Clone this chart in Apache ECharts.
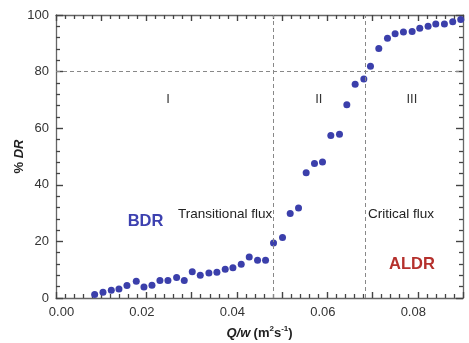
<!DOCTYPE html>
<html>
<head>
<meta charset="utf-8">
<script src="https://cdn.jsdelivr.net/npm/echarts@6/dist/echarts.min.js"></script>
<style>
  html, body { margin: 0; background: #fff; }
  #chart { width: 469px; height: 343px; }
</style>
</head>
<body>
<div id="chart"></div>
<script>
// Q/w (m2 s-1) vs % drag reduction
const flux = [
  0.00855, 0.01039, 0.01223, 0.01392, 0.01569, 0.01775, 0.01945, 0.02122, 0.02298, 0.02475,
  0.02667, 0.02836, 0.03013, 0.03190, 0.03381, 0.03558, 0.03742, 0.03912, 0.04096, 0.04273,
  0.04457, 0.04634, 0.04810, 0.05009, 0.05179, 0.05363, 0.05532, 0.05716, 0.05893, 0.06077,
  0.06269, 0.06431, 0.06615, 0.06807, 0.06954, 0.07138, 0.07330, 0.07499, 0.07683, 0.07875,
  0.08044, 0.08228, 0.08398, 0.08589, 0.08773, 0.08950
];
const dr = [
  1.2, 2.0, 2.7, 3.2, 4.4, 5.9, 3.9, 4.5, 6.2, 6.2,
  7.2, 6.2, 9.3, 8.0, 8.8, 9.1, 10.2, 10.7, 11.9, 14.5,
  13.3, 13.3, 19.4, 21.4, 29.9, 31.8, 44.3, 47.5, 48.1, 57.4,
  57.9, 68.3, 75.5, 77.4, 81.9, 88.2, 91.8, 93.4, 94.0, 94.2,
  95.3, 96.0, 96.8, 96.8, 97.6, 98.4
];
const boundaries = [0.0481, 0.0683];
const threshold = 80;

const regionNames = ["I", "II", "III"];
const regionX = [0.0248, 0.0581, 0.0787];
const regionY = [70, 70, 70];

const fluxNames = ["Transitional flux", "Critical flux"];
const fluxX = [0.0374, 0.0763];
const fluxY = [29.5, 29.5];

const tagNames = ["BDR", "ALDR"];
const tagX = [0.0198, 0.0787];
const tagY = [27, 11.8];
const tagColors = ["#3d41b0", "#b5302c"];

const dotColor = "#3b3fab";
const frameColor = "#666";
const tickColor = "#444";

const chart = echarts.init(document.getElementById("chart"));

function xAxisBase(pos, withLabels) {
  return {
    type: "value",
    position: pos,
    min: 0,
    max: 0.09,
    interval: 0.01,
    axisLine: { show: true, onZero: false, lineStyle: { color: frameColor, width: 1.3 } },
    axisTick: { show: true, inside: true, length: 6, lineStyle: { color: tickColor, width: 1.4 } },
    minorTick: { show: true, splitNumber: 5, length: 4, lineStyle: { color: tickColor, width: 1.3 } },
    axisLabel: withLabels ? {
      show: true,
      margin: 8,
      fontSize: 13,
      color: "#333",
      fontFamily: "Liberation Sans",
      formatter: (v) => {
        const k = Math.round(v * 100);
        if (k % 2 !== 0) return "";
        return k === 0 ? "{f|0.00}" : "{d|" + v.toFixed(2) + "}";
      },
      rich: {
        f: { fontSize: 13, color: "#333", padding: [0, 0, 0, 11] },
        d: { fontSize: 13, color: "#333", padding: [0, 9, 0, 0] }
      }
    } : { show: false },
    splitLine: { show: false }
  };
}

function yAxisBase(pos, withLabels) {
  return {
    type: "value",
    position: pos,
    min: 0,
    max: 100,
    interval: 20,
    axisLine: { show: true, onZero: false, lineStyle: { color: frameColor, width: 1.3 } },
    axisTick: { show: true, inside: true, length: 7, lineStyle: { color: tickColor, width: 1.4 } },
    minorTick: { show: true, splitNumber: 5, length: 4, lineStyle: { color: tickColor, width: 1.3 } },
    axisLabel: withLabels ? {
      show: true,
      margin: 7,
      fontSize: 13,
      color: "#333",
      fontFamily: "Liberation Sans"
    } : { show: false },
    splitLine: { show: false }
  };
}

const xBottom = xAxisBase("bottom", true);
xBottom.name = "{i|Q/w} {n|(m}{s|2}{n|s}{s|-1}{n|)}";
xBottom.nameLocation = "middle";
xBottom.nameGap = 27;
xBottom.nameMoveOverlap = false;
xBottom.nameTextStyle = {
  fontFamily: "Liberation Sans",
  rich: {
    i: { fontSize: 13, fontWeight: "bold", fontStyle: "italic", color: "#222", lineHeight: 16 },
    n: { fontSize: 13, fontWeight: "bold", color: "#222", lineHeight: 16 },
    s: { fontSize: 8, fontWeight: "bold", color: "#222", verticalAlign: "top", lineHeight: 16 }
  }
};

const yLeft = yAxisBase("left", true);
yLeft.name = "{a|% }{b|DR}";
yLeft.nameLocation = "middle";
yLeft.nameRotate = 90;
yLeft.nameGap = 30;
yLeft.nameMoveOverlap = false;
yLeft.nameTextStyle = {
  fontFamily: "Liberation Sans",
  rich: {
    a: { fontSize: 13, fontWeight: "bold", color: "#222" },
    b: { fontSize: 13, fontWeight: "bold", fontStyle: "italic", color: "#222" }
  }
};

function textPoints(names, xs, ys, style) {
  return names.map((n, i) => ({
    value: [xs[i], ys[i]],
    label: Object.assign({ show: true, formatter: n, position: "inside", opacity: 1 },
      typeof style === "function" ? style(i) : style)
  }));
}

chart.setOption({
  animation: false,
  grid: { left: 56, right: 6, top: 15, bottom: 45, outerBoundsMode: "none" },
  xAxis: [xBottom, xAxisBase("top", false)],
  yAxis: [yLeft, yAxisBase("right", false)],
  series: [
    {
      type: "scatter",
      xAxisIndex: 0,
      yAxisIndex: 0,
      z: 3,
      symbolSize: 7,
      itemStyle: { color: dotColor, opacity: 1 },
      data: flux.map((x, i) => [x, dr[i]]),
      markLine: {
        silent: true,
        symbol: "none",
        precision: 5,
        label: { show: false },
        lineStyle: { type: [4, 3], color: "#888", width: 1 },
        data: [
          { xAxis: boundaries[0] },
          { xAxis: boundaries[1] },
          { yAxis: threshold }
        ]
      }
    },
    {
      type: "scatter",
      xAxisIndex: 0,
      yAxisIndex: 0,
      symbolSize: 0,
      silent: true,
      z: 4,
      itemStyle: { opacity: 1 },
      data: [
        ...textPoints(regionNames, regionX, regionY, { fontSize: 13, color: "#333", fontFamily: "Liberation Sans" }),
        ...textPoints(fluxNames, fluxX, fluxY, { fontSize: 13.5, color: "#222", fontFamily: "Liberation Sans" }),
        ...textPoints(tagNames, tagX, tagY, (i) => ({ fontSize: 16.5, fontWeight: "bold", color: tagColors[i], fontFamily: "Liberation Sans" }))
      ]
    }
  ]
});
</script>
</body>
</html>
